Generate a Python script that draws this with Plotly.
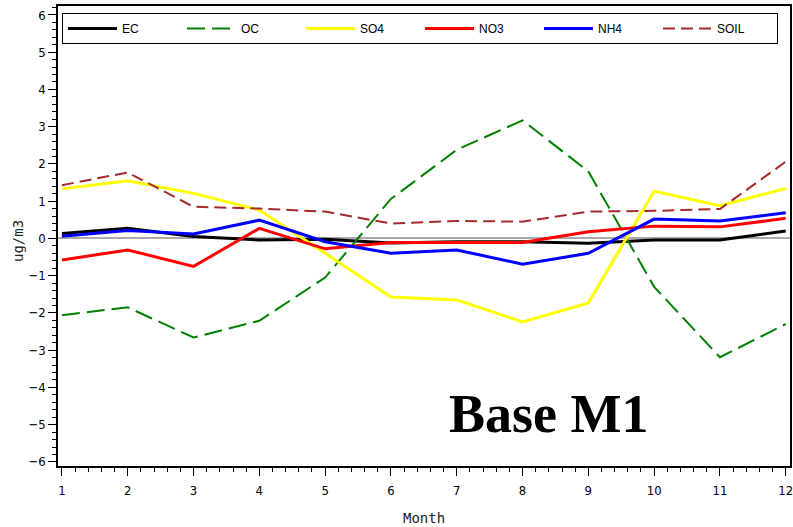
import plotly.graph_objects as go

months = [1, 2, 3, 4, 5, 6, 7, 8, 9, 10, 11, 12]
ec = [0.13, 0.27, 0.05, -0.04, -0.02, -0.12, -0.09, -0.09, -0.13, -0.04, -0.04, 0.20]
oc = [-2.06, -1.85, -2.66, -2.21, -1.05, 1.06, 2.38, 3.17, 1.80, -1.30, -3.19, -2.30]
so4 = [1.33, 1.55, 1.21, 0.76, -0.40, -1.57, -1.65, -2.24, -1.73, 1.27, 0.88, 1.34]
no3 = [-0.58, -0.31, -0.75, 0.27, -0.28, -0.11, -0.11, -0.11, 0.18, 0.33, 0.31, 0.54]
nh4 = [0.06, 0.21, 0.12, 0.49, -0.09, -0.40, -0.31, -0.69, -0.40, 0.52, 0.47, 0.69]
soil = [1.43, 1.77, 0.85, 0.80, 0.72, 0.40, 0.47, 0.45, 0.72, 0.74, 0.79, 2.06]

series = [
    ("EC", ec, "#000000", "solid", 3),
    ("OC", oc, "#008000", "18px,7px", 2),
    ("SO4", so4, "#FFFF00", "solid", 3),
    ("NO3", no3, "#FF0000", "solid", 3),
    ("NH4", nh4, "#0000FF", "solid", 3),
    ("SOIL", soil, "#A52A2A", "12px,6px", 2),
]

fig = go.Figure()
for name, vals, color, dash, width in series:
    fig.add_trace(go.Scatter(
        x=months, y=vals, mode="lines", name=name,
        line=dict(color=color, dash=dash, width=width),
    ))

tick_font = dict(family="DejaVu Sans Condensed, Liberation Sans Narrow, Arial Narrow, sans-serif",
                 size=13, color="#000000")

fig.update_layout(
    template="none",
    width=793, height=527,
    margin=dict(l=58, r=3, t=6, b=61, autoexpand=False),
    paper_bgcolor="white", plot_bgcolor="white",
    showlegend=True,
    legend=dict(
        orientation="h", x=0.0055, y=0.985, xanchor="left", yanchor="top",
        bgcolor="white", bordercolor="black", borderwidth=1,
        entrywidth=55, entrywidthmode="pixels",
        font=dict(family="Liberation Sans, Arial, sans-serif", size=12, color="black"),
        itemwidth=49,
    ),
    xaxis=dict(
        automargin=False,
        range=[0.94, 12.065], tickmode="array", tickvals=months,
        ticktext=[str(m) for m in months],
        ticks="outside", ticklen=8, tickcolor="black", tickwidth=1,
        minor=dict(dtick=0.2, ticklen=4, ticks="outside", tickcolor="black", tick0=1),
        showgrid=False, zeroline=False,
        showline=True, linecolor="black", linewidth=1.5, mirror=True,
        tickfont=tick_font, ticklabelstandoff=4, ticklabeloverflow="allow",
    ),
    yaxis=dict(
        automargin=False,
        range=[-6.11, 6.24], tickmode="linear", tick0=-6, dtick=1,
        ticks="outside", ticklen=8, tickcolor="black", tickwidth=1,
        minor=dict(dtick=0.2, ticklen=4, ticks="outside", tickcolor="black", tick0=0),
        showgrid=False, zeroline=True, zerolinecolor="#AAAAAA", zerolinewidth=2,
        showline=True, linecolor="black", linewidth=1.5, mirror=True,
        tickfont=tick_font, ticklabeloverflow="allow",
    ),
    annotations=[
        dict(text="<b>Base M1</b>", xref="paper", yref="paper",
             x=(548 - 58) / 732, y=1 - (414 - 6) / 460, xanchor="center", yanchor="middle",
             showarrow=False,
             font=dict(family="Liberation Serif, Times New Roman, serif", size=54, color="black")),
        dict(text="Month", xref="paper", yref="paper",
             x=(424 - 58) / 732, y=1 - (518 - 6) / 460, xanchor="center", yanchor="middle",
             showarrow=False,
             font=dict(family="DejaVu Sans Mono, monospace", size=14, color="#222222")),
        dict(text="ug/m3", xref="paper", yref="paper",
             x=-(58 - 18) / 732, y=1 - (241 - 6) / 460, xanchor="center", yanchor="middle",
             textangle=-90, showarrow=False,
             font=dict(family="DejaVu Sans Mono, monospace", size=14, color="#222222")),
    ],
)

fig.write_html("out.html", config={"displayModeBar": False},
               post_script="document.body.style.margin='0';document.body.style.overflow='hidden';")
